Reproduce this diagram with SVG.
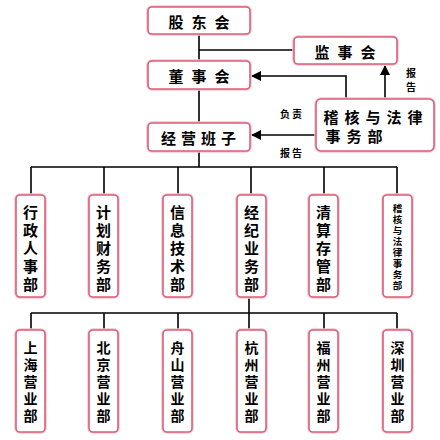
<svg xmlns="http://www.w3.org/2000/svg" width="440" height="440" viewBox="0 0 440 440">
<defs>
<marker id="ah" viewBox="0 0 10 10" refX="9" refY="5" markerWidth="10" markerHeight="10" markerUnits="userSpaceOnUse" orient="auto">
<path d="M0,0 L10,5 L0,10 z" fill="#000"/>
</marker>
<style>
.box{fill:#fff;stroke:#d9607a;stroke-width:1.6}
.glow{fill:none;stroke:#f6c6d0;stroke-width:3.5}
.ln{fill:none;stroke:#000;stroke-width:1.6}
.t{font-family:"Noto Sans CJK SC","Noto Sans",sans-serif;font-weight:bold;fill:#000;text-anchor:middle;dominant-baseline:central}
.h{font-size:15px;letter-spacing:8px}
.vt{font-family:"Noto Sans CJK SC","Noto Sans",sans-serif;font-weight:bold;fill:#000;text-anchor:middle;writing-mode:vertical-rl;text-orientation:upright}
.v{font-size:15px;letter-spacing:3px}
.w{font-size:14px;letter-spacing:3px}
.x{font-size:9.5px;letter-spacing:1.5px}
.s{font-size:10px}
</style>
</defs>
<rect width="440" height="440" fill="#fff"/>
<g id="connectors">
<path class="ln" d="M199,34 V61 M199,50 H294 M199,89 V123 M199,151 V167 M31,167 H397 M31,167 V195 M104,167 V195 M178,167 V195 M251,167 V195 M324,167 V195 M397,167 V195"/>
<path class="ln" d="M249,297 V313 M31,313 H397 M31,313 V330 M104,313 V330 M178,313 V330 M249,313 V330 M324,313 V330 M397,313 V330"/>
<path class="ln" d="M346,99 V76 H252" marker-end="url(#ah)"/>
<path class="ln" d="M385,99 V66" marker-end="url(#ah)"/>
<path class="ln" d="M316,135 H252" marker-end="url(#ah)"/>
<text class="vt s" x="411" y="82" style="letter-spacing:4px">报告</text>
<text class="t s" x="292" y="113" style="letter-spacing:2px">负责</text>
<text class="t s" x="292" y="152" style="letter-spacing:2px">报告</text>
</g>
<g id="gudonghui"><rect class="glow" x="148" y="7" width="102" height="27" rx="4"/><rect class="box" x="148" y="7" width="102" height="27" rx="4"/><text class="t h" x="203" y="21">股东会</text></g>
<g id="jianshihui"><rect class="glow" x="294" y="37" width="103" height="27" rx="4"/><rect class="box" x="294" y="37" width="103" height="27" rx="4"/><text class="t h" x="349" y="51">监事会</text></g>
<g id="dongshihui"><rect class="glow" x="148" y="61" width="102" height="28" rx="4"/><rect class="box" x="148" y="61" width="102" height="28" rx="4"/><text class="t h" x="203" y="75">董事会</text></g>
<g id="jingyingbanzi"><rect class="glow" x="148" y="123" width="102" height="28" rx="4"/><rect class="box" x="148" y="123" width="102" height="28" rx="4"/><text class="t h" x="201" y="137" style="letter-spacing:5px">经营班子</text></g>
<g id="jihe"><rect class="glow" x="316" y="99" width="118" height="52" rx="5"/><rect class="box" x="316" y="99" width="118" height="52" rx="5"/><text class="t h" x="376" y="116" style="letter-spacing:6px">稽核与法律</text><text class="t h" x="357" y="135" style="letter-spacing:6px">事务部</text></g>
<g id="d1"><rect class="glow" x="16" y="195" width="29" height="102" rx="4"/><rect class="box" x="16" y="195" width="29" height="102" rx="4"/><text class="vt v" x="30.5" y="250">行政人事部</text></g>
<g id="d2"><rect class="glow" x="89" y="195" width="29" height="102" rx="4"/><rect class="box" x="89" y="195" width="29" height="102" rx="4"/><text class="vt v" x="103.5" y="250">计划财务部</text></g>
<g id="d3"><rect class="glow" x="163" y="195" width="29" height="102" rx="4"/><rect class="box" x="163" y="195" width="29" height="102" rx="4"/><text class="vt v" x="177.5" y="250">信息技术部</text></g>
<g id="d4"><rect class="glow" x="237" y="195" width="29" height="102" rx="4"/><rect class="box" x="237" y="195" width="29" height="102" rx="4"/><text class="vt v" x="251.5" y="250">经纪业务部</text></g>
<g id="d5"><rect class="glow" x="309" y="195" width="29" height="102" rx="4"/><rect class="box" x="309" y="195" width="29" height="102" rx="4"/><text class="vt v" x="323.5" y="250">清算存管部</text></g>
<g id="d6"><rect class="glow" x="383" y="195" width="29" height="102" rx="4"/><rect class="box" x="383" y="195" width="29" height="102" rx="4"/><text class="vt x" x="397.5" y="248">稽核与法律事务部</text></g>
<g id="b1"><rect class="glow" x="16" y="330" width="29" height="102" rx="4"/><rect class="box" x="16" y="330" width="29" height="102" rx="4"/><text class="vt w" x="30.5" y="383.5">上海营业部</text></g>
<g id="b2"><rect class="glow" x="89" y="330" width="29" height="102" rx="4"/><rect class="box" x="89" y="330" width="29" height="102" rx="4"/><text class="vt w" x="103.5" y="383.5">北京营业部</text></g>
<g id="b3"><rect class="glow" x="163" y="330" width="29" height="102" rx="4"/><rect class="box" x="163" y="330" width="29" height="102" rx="4"/><text class="vt w" x="177.5" y="383.5">舟山营业部</text></g>
<g id="b4"><rect class="glow" x="237" y="330" width="29" height="102" rx="4"/><rect class="box" x="237" y="330" width="29" height="102" rx="4"/><text class="vt w" x="251.5" y="383.5">杭州营业部</text></g>
<g id="b5"><rect class="glow" x="309" y="330" width="29" height="102" rx="4"/><rect class="box" x="309" y="330" width="29" height="102" rx="4"/><text class="vt w" x="323.5" y="383.5">福州营业部</text></g>
<g id="b6"><rect class="glow" x="383" y="330" width="29" height="102" rx="4"/><rect class="box" x="383" y="330" width="29" height="102" rx="4"/><text class="vt w" x="397.5" y="383.5">深圳营业部</text></g>
</svg>
